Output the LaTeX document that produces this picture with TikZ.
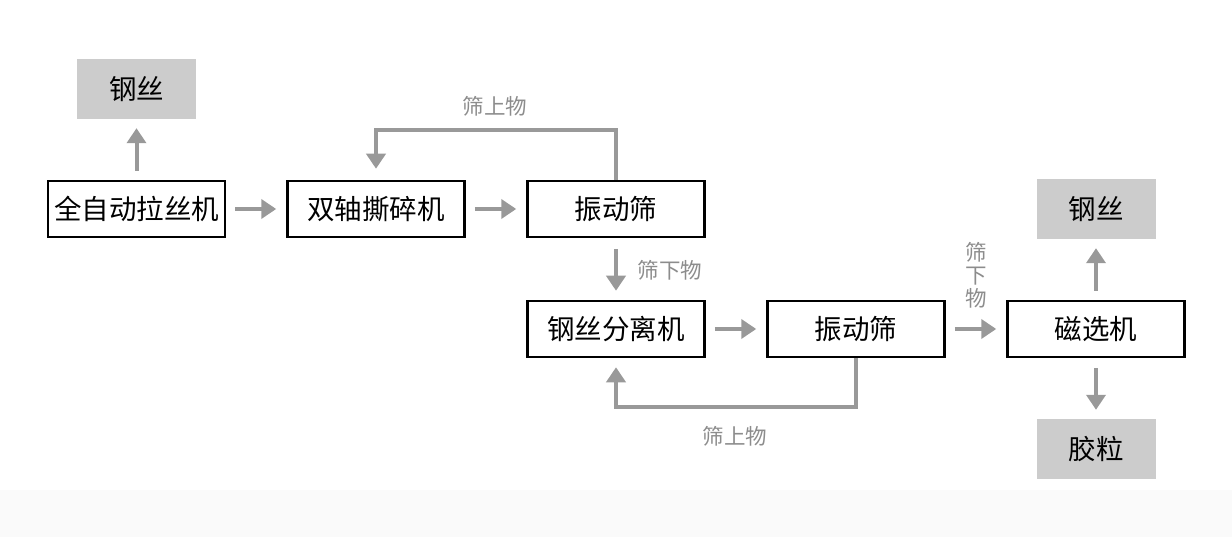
\documentclass[tikz,border=0pt]{standalone}
\usepackage{fontspec}
\setmainfont{Noto Sans CJK SC}
\usetikzlibrary{arrows.meta}
\definecolor{arr}{HTML}{999999}
\definecolor{labc}{HTML}{8C8C8C}
\definecolor{fillg}{HTML}{CCCCCC}
\definecolor{band}{HTML}{FAFAFA}
\begin{document}
\begin{tikzpicture}[x=1pt,y=-1pt,
  proc/.style={draw=black, line width=2.5pt, minimum width=177pt, minimum height=56pt, inner sep=0pt, font=\fontsize{27.5}{30}\selectfont},
  prod/.style={fill=fillg, minimum width=119pt, minimum height=60pt, inner sep=0pt, font=\fontsize{27.5}{30}\selectfont},
  flow/.style={draw=arr, line width=4pt, -{Triangle[length=15pt,width=19pt]}},
  lab/.style={text=labc, inner sep=0pt, font=\fontsize{21.5}{23}\selectfont}]
\path[use as bounding box] (0,0) rectangle (1232,537);
\fill[band] (0,490) rectangle (1232,537);
\node[proc] (a) at (136.5,209) {全自动拉丝机};
\node[proc] (b) at (376,209) {双轴撕碎机};
\node[proc] (c) at (616,209) {振动筛};
\node[prod] (w1) at (136.5,89) {钢丝};
\node[proc] (d) at (616,329) {钢丝分离机};
\node[proc] (e) at (856,329) {振动筛};
\node[proc] (f) at (1096,329) {磁选机};
\node[prod] (w2) at (1096,209) {钢丝};
\node[prod] (g) at (1096,449) {胶粒};
\draw[flow, shorten <=9pt, shorten >=9pt] (a.north) -- (w1.south);
\draw[flow, shorten <=9pt, shorten >=10pt] (a.east) -- (b.west);
\draw[flow, shorten <=9pt, shorten >=10pt] (b.east) -- (c.west);
\draw[flow, shorten >=11pt] (c.north) -- (c.north |- 0,130) -| (b.north);
\node[lab] (l1) at (495,106) {筛上物};
\draw[flow, shorten <=11pt, shorten >=9pt] (c.south) -- (d.north);
\node[lab] (l2) at (670,270) {筛下物};
\draw[flow, shorten <=9pt, shorten >=10pt] (d.east) -- (e.west);
\draw[flow, shorten <=9pt, shorten >=10pt] (e.east) -- (f.west);
\node[lab, align=center] (l3) at (976,275) {筛\\下\\物};
\draw[flow, shorten >=9pt] (e.south) -- (e.south |- 0,407) -| (d.south);
\node[lab] (l4) at (735,436) {筛上物};
\draw[flow, shorten <=9pt, shorten >=9pt] (f.north) -- (w2.south);
\draw[flow, shorten <=10pt, shorten >=9pt] (f.south) -- (g.north);
\end{tikzpicture}
\end{document}
